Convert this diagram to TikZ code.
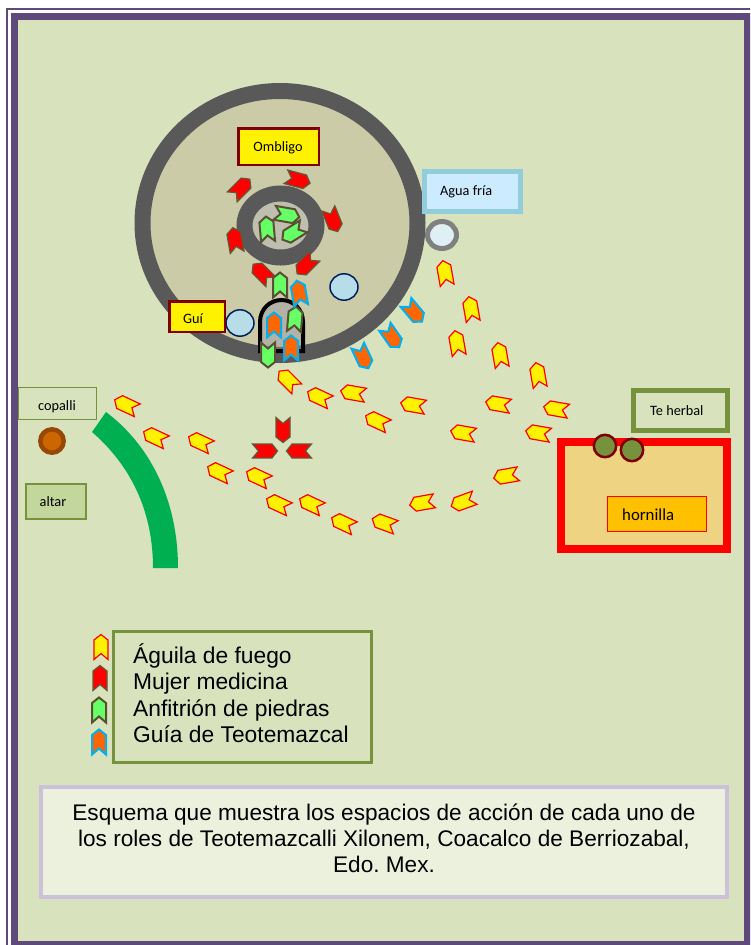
\documentclass[tikz,border=0pt]{standalone}
\usepackage{fontspec}
\setmainfont{Liberation Sans}
\newfontfamily\calib{Carlito}
\frenchspacing
\definecolor{pagegreen}{HTML}{D8E3BD}
\definecolor{frameviolet}{HTML}{5F497A}
\definecolor{ringgray}{HTML}{595959}
\definecolor{floorkhaki}{HTML}{CBCBA8}
\definecolor{stonegray}{HTML}{BFBFB0}
\definecolor{archgray}{HTML}{B2B2A6}
\definecolor{darkred}{HTML}{7F0000}
\definecolor{navyline}{HTML}{002060}
\definecolor{palewater}{HTML}{B7DDE8}
\definecolor{olive}{HTML}{76923C}
\definecolor{iceblue}{HTML}{92CDDC}
\definecolor{icefill}{HTML}{CCEBFF}
\definecolor{sand}{HTML}{EDD382}
\definecolor{amberfill}{HTML}{FFC000}
\definecolor{altarfill}{HTML}{C3D69B}
\definecolor{archgreen}{HTML}{00B050}
\definecolor{rust}{HTML}{974706}
\definecolor{rustfill}{HTML}{CC6600}
\definecolor{capfill}{HTML}{EBF1DD}
\definecolor{capline}{HTML}{CCC0DA}
\definecolor{chevgreen}{HTML}{66FF66}
\definecolor{chevbrown}{HTML}{5A4F33}
\definecolor{chevorange}{HTML}{FF6600}
\definecolor{chevblue}{HTML}{00B0F0}
\definecolor{redline}{HTML}{5F5A3A}
\tikzset{
  aguila/.style={draw=red,fill=yellow,line width=1.2pt,line join=miter},
  mujer/.style={draw=redline,fill=red,line width=1.2pt,line join=miter},
  anfitrion/.style={draw=chevbrown,fill=chevgreen,line width=2pt,line join=miter},
  guia/.style={draw=chevblue,fill=chevorange,line width=2pt,line join=miter},
  small/.style={font=\calib\fontsize{14.3}{17}\selectfont,inner sep=0pt,anchor=base},
  big/.style={font=\fontsize{22.8}{26}\selectfont,inner sep=0pt,anchor=base west},
  capt/.style={font=\fontsize{22.6}{26}\selectfont,inner sep=0pt,anchor=base},
}
\newcommand{\chev}[4]{\draw[#4,shift={(#1,#2)},rotate=#3]
  (0pt,12.5pt)--(7pt,7pt)--(7pt,-12.5pt)--(0pt,-6.5pt)--(-7pt,-12.5pt)--(-7pt,7pt)--cycle;}
\newcommand{\archpath}{(260,351)--(260,322) .. controls (260,309) and (270,300) .. (281.5,300) .. controls (293,300) and (303,309) .. (303,322)--(303,351)--cycle}
\begin{document}
\begin{tikzpicture}[x=1pt,y=-1pt]
\useasboundingbox (0,0) rectangle (750,945);
\clip (0,0) rectangle (750,945);
\fill[white] (0,0) rectangle (750,945);
% page frame
\draw[frameviolet,line width=1.5pt] (7,9) rectangle (760,960);
\draw[frameviolet,line width=7pt,fill=pagegreen] (14.5,16) rectangle (747.5,944);
% sweat lodge
\draw[ringgray,line width=16pt,fill=floorkhaki] (280,223) ellipse [x radius=137.5,y radius=132];
\draw[ringgray,line width=16pt,fill=stonegray] (280.5,225.5) ellipse [x radius=36,y radius=32];
% door
\fill[archgray] \archpath;
\begin{scope}
\clip \archpath;
\draw[ringgray,opacity=.75,line width=16pt] (280,223) ellipse [x radius=137.5,y radius=132];
\end{scope}
\draw[black,line width=4pt] \archpath;
% boxes
\draw[darkred,line width=2.5pt,fill=yellow] (238.5,128.5) rectangle (319,165);
\node[small] (ombligo) at (278,151.5) {Ombligo};
\draw[navyline,line width=1.5pt,fill=palewater] (240,323) ellipse [x radius=14,y radius=13.2];
\draw[navyline,line width=1.5pt,fill=palewater] (344,287) ellipse [x radius=14,y radius=13.2];
\draw[darkred,line width=2.5pt,fill=yellow] (169.5,301.5) rectangle (225,332);
\node[small] (gui) at (193,323) {Guí};
\draw[iceblue,line width=5pt,fill=icefill] (424.5,171.5) rectangle (520.5,211.5);
\node[small,anchor=base west] (agua) at (440,195) {Agua fría};
\draw[gray,line width=5pt,fill=palewater!45!white] (442,235) ellipse [x radius=14.5,y radius=13.5];
% altar side
\draw[olive,line width=1.5pt] (18.7,387.7) rectangle (96.3,419.3);
\node[small] (copalli) at (57,410) {copalli};
\draw[rust,line width=4.5pt,fill=rustfill] (52,441) circle (11.7);
\draw[olive,line width=2pt,fill=altarfill] (26,484) rectangle (85.5,518.5);
\node[small] (altar) at (53,506) {altar};
\fill[archgreen] (106,412) .. controls (150,445) and (178,500) .. (178,568)
  -- (153,568) .. controls (153,510) and (130,465) .. (92,432) -- cycle;
% oven side
\draw[olive,line width=5pt] (633.5,390.5) rectangle (727.5,430.5);
\node[small,anchor=base west] (teherbal) at (650,415) {Te herbal};
\draw[red,line width=8pt,fill=sand] (561,442) rectangle (727,549);
\draw[red,line width=1.5pt,fill=amberfill] (607.7,496.7) rectangle (706.3,531.3);
\node[small,anchor=base west,font=\calib\fontsize{16.8}{20}\selectfont] (hornilla) at (622,520.7) {hornilla};
\draw[darkred,line width=2.5pt,fill=olive] (605,446) circle (11.2);
\draw[darkred,line width=2.5pt,fill=olive] (632,450) circle (11.2);
% fire eagles
\foreach \x/\y/\r in {445/273/10,471/309/10,457/343/10,500/355/10,538/375/10,
  556/409/80,498/404/80,538/433/80,463/433/80,413/405/80,353/393/80,319/397/65,288/380/45,
  377/421/65,506/476/100,463/502/110,422/503/100,384/523/70,343/523/65,311/504/65,278/504/65,
  258/477/65,219/472/65,200/442/65,155/437/65,126/405/65}
  {\chev{\x}{\y}{\r}{aguila}}
% medicine women
\foreach \x/\y/\r in {241/188/-45,298/180/-105,333/220/202,235/240/10,262/273/45,306/265/135,
  283/430/180,265/451/-90,299/451/90}
  {\chev{\x}{\y}{\r}{mujer}}
% stone hosts
\foreach \x/\y/\r in {287/215/-100,267/229/5,293/233/122,280/285/0,295/319/-5,268/355/180}
  {\chev{\x}{\y}{\r}{anfitrion}}
% guides
\foreach \x/\y/\r in {414/312/220,392/337/215,363/357/205,299/293/10,274/325/0,291/348/0}
  {\chev{\x}{\y}{\r}{guia}}
% legend
\draw[olive,line width=3pt] (113.5,631.5) rectangle (371.5,762.5);
\chev{101}{647}{0}{aguila}
\chev{100}{678}{0}{mujer}
\chev{99}{710}{0}{anfitrion}
\chev{99}{742}{0}{guia}
\node[big] (l1) at (133,663) {Águila de fuego};
\node[big] (l2) at (133,689) {Mujer medicina};
\node[big] (l3) at (133,716) {Anfitrión de piedras};
\node[big] (l4) at (133,742) {Guía de Teotemazcal};
% caption
\draw[capline,line width=4pt,fill=capfill] (41,787) rectangle (727,897);
\node[capt] (c1) at (384,820) {Esquema que muestra los espacios de acción de cada uno de};
\node[capt] (c2) at (384,846) {los roles de Teotemazcalli Xilonem, Coacalco de Berriozabal,};
\node[capt] (c3) at (384,872.7) {Edo. Mex.};
\end{tikzpicture}
\end{document}
